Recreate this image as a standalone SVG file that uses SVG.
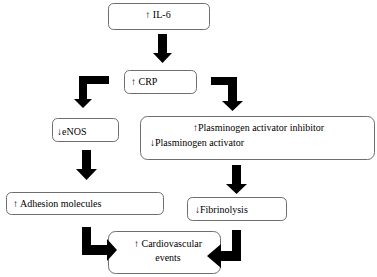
<svg xmlns="http://www.w3.org/2000/svg" width="377" height="277" viewBox="0 0 377 277">
<style>
.box{fill:#fff;stroke:#6e6e6e;stroke-width:1}
.t{font-family:"Liberation Serif","Times New Roman",serif;font-size:10px;fill:#000}
.ar{fill:#000;stroke:none}
</style>
<rect width="377" height="277" fill="#fff"/>
<g id="il6"><rect class="box" x="108.5" y="3.5" width="101" height="26" rx="5"/><text class="t" x="158" y="18" text-anchor="middle">↑ IL-6</text></g>
<g id="crp"><rect class="box" x="124.5" y="70.5" width="72" height="23" rx="5"/><text class="t" x="131" y="85">↑ CRP</text></g>
<g id="enos"><rect class="box" x="52.5" y="118.5" width="66" height="23" rx="5"/><text class="t" x="57" y="135">↓eNOS</text></g>
<g id="plasminogen"><rect class="box" x="140.5" y="116.5" width="234" height="43" rx="7"/><text class="t" x="193" y="131">↑Plasminogen activator inhibitor</text><text class="t" x="150" y="146">↓Plasminogen activator</text></g>
<g id="adhesion"><rect class="box" x="6.5" y="192.5" width="157" height="22" rx="5"/><text class="t" x="13" y="207">↑ Adhesion molecules</text></g>
<g id="fibrinolysis"><rect class="box" x="187.5" y="197.5" width="99" height="23" rx="5"/><text class="t" x="195" y="213">↓Fibrinolysis</text></g>
<g id="cardio"><rect class="box" x="108.5" y="231.5" width="112" height="42" rx="7"/><text class="t" x="168" y="247" text-anchor="middle">↑ Cardiovascular</text><text class="t" x="168" y="261" text-anchor="middle">events</text></g>
<g id="connectors">
<polygon class="ar" points="158,34 167,34 167,53 172,53 162.5,63 153,53 158,53"/>
<polygon class="ar" points="109,76 109,84 87,84 87,99 92,99 83,108 74,99 79,99 79,76"/>
<polygon class="ar" points="211,77 237,77 237,101 243,101 232.5,111 222,101 228,101 228,85 211,85"/>
<polygon class="ar" points="82,150 91,150 91,169 97,169 86.5,180 76,169 82,169"/>
<polygon class="ar" points="232,165 241,165 241,184 247,184 236.5,194 226,184 232,184"/>
<polygon class="ar" points="82,227 91,227 91,245 107,245 107,239 117,250 107,261 107,255 82,255"/>
<polygon class="ar" points="232,230 241,230 241,261 221,261 221,268 207,256 221,244 221,251 232,251"/>
</g>
</svg>
